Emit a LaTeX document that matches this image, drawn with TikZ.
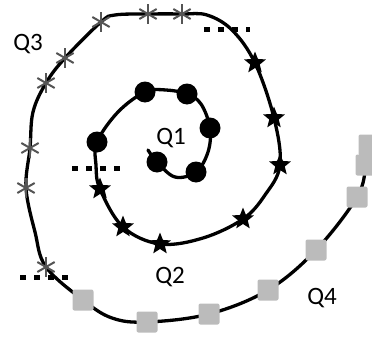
\documentclass[tikz,border=0pt]{standalone}
\usepackage{fontspec}
\setmainfont{Carlito}
\usetikzlibrary{shapes.geometric,calc}
\definecolor{sqgray}{HTML}{BBBBBB}
\definecolor{astgray}{HTML}{555555}
\begin{document}
\begin{tikzpicture}[x=1pt,y=-1pt,
  curve/.style={line width=3.3pt, line cap=round, line join=round},
  dotm/.style={circle, fill=black, inner sep=0pt, minimum size=21pt},
  starm/.style={star, star points=5, star point ratio=2.3, fill=black, inner sep=0pt, minimum size=23pt},
  sqm/.style={rectangle, rounded corners=2pt, fill=sqgray, inner sep=0pt, minimum size=21pt},
  astk/.style={draw=astgray, line width=2pt},
  sepline/.style={line width=5pt, dash pattern=on 6pt off 8pt},
  lab/.style={font=\fontsize{25}{25}\selectfont, inner sep=0pt}]
\useasboundingbox (0,0) rectangle (372,340);
\clip (0,0) rectangle (372,340);
% path coordinates
\coordinate (c0) at (148,150);
\coordinate (p1) at (157,162);
\coordinate (k1) at (175,177);
\coordinate (p2) at (196,172);
\coordinate (k2) at (208,152);
\coordinate (p3) at (210,128);
\coordinate (k3) at (201,104);
\coordinate (p4) at (187,94);
\coordinate (k4) at (166,90);
\coordinate (p5) at (145,92);
\coordinate (k5) at (118,112);
\coordinate (p6) at (97,142);
\coordinate (k6) at (96,165);
\coordinate (s1) at (100,189);
\coordinate (s2) at (123,227);
\coordinate (s3) at (160,244);
\coordinate (k7) at (203,238);
\coordinate (s4) at (243,219);
\coordinate (k8) at (265,195);
\coordinate (s5) at (280,165);
\coordinate (s6) at (274,118);
\coordinate (s7) at (255,63);
\coordinate (k9) at (232,30);
\coordinate (k10) at (207,15);
\coordinate (a1) at (182,14);
\coordinate (a2) at (148,14);
\coordinate (k11) at (115,15);
\coordinate (a3) at (101,22);
\coordinate (a4) at (65,58);
\coordinate (a5) at (46,83);
\coordinate (k12) at (33,112);
\coordinate (a6) at (30,148);
\coordinate (a7) at (26,188);
\coordinate (k13) at (35,232);
\coordinate (a8) at (46,267);
\coordinate (q1) at (83,300);
\coordinate (k14) at (112,318);
\coordinate (q2) at (147,322);
\coordinate (q3) at (209,314);
\coordinate (q4) at (268,290);
\coordinate (q5) at (316,250);
\coordinate (q6) at (357,197);
\coordinate (q7) at (366,165);
\coordinate (q8) at (369,145);
% spiral
\draw[curve] plot[smooth, tension=0.6] coordinates {(c0) (p1) (k1) (p2) (k2) (p3) (k3) (p4) (k4) (p5) (k5) (p6) (k6) (s1) (s2) (s3) (k7) (s4) (k8) (s5) (s6) (s7) (k9) (k10) (a1) (a2) (k11) (a3) (a4) (a5) (k12) (a6) (a7) (k13) (a8) (q1) (k14) (q2) (q3) (q4) (q5) (q6) (q7) (q8)};
% markers
\foreach \n in {p1,p2,p3,p4,p5,p6}{\node[dotm] (m\n) at (\n) {};}
\foreach \n in {s1,s2,s3,s4,s5,s6,s7}{\node[starm] (m\n) at (\n) {};}
\foreach \n in {q1,q2,q3,q4,q5,q6,q7,q8}{\node[sqm] (m\n) at (\n) {};}
\foreach \n in {a1,a2,a3,a4,a5,a6,a7,a8}{
  \foreach \ang in {90,30,150}{
    \draw[astk] ($(\n)+(\ang:10pt)$) -- ($(\n)+(\ang+180:10pt)$);
  }
}
% separators
\coordinate (t1) at (204,29); \coordinate (t2) at (250,29);
\coordinate (u1) at (72,168); \coordinate (u2) at (120,168);
\coordinate (v1) at (20,277); \coordinate (v2) at (68,277);
\draw[sepline] (t1) -- (t2);
\draw[sepline] (u1) -- (u2);
\draw[sepline] (v1) -- (v2);
% labels
\node[lab] (Q1) at (171,138) {Q1};
\node[lab] (Q2) at (170,277) {Q2};
\node[lab] (Q3) at (28,44) {Q3};
\node[lab] (Q4) at (322,298) {Q4};
\end{tikzpicture}
\end{document}
